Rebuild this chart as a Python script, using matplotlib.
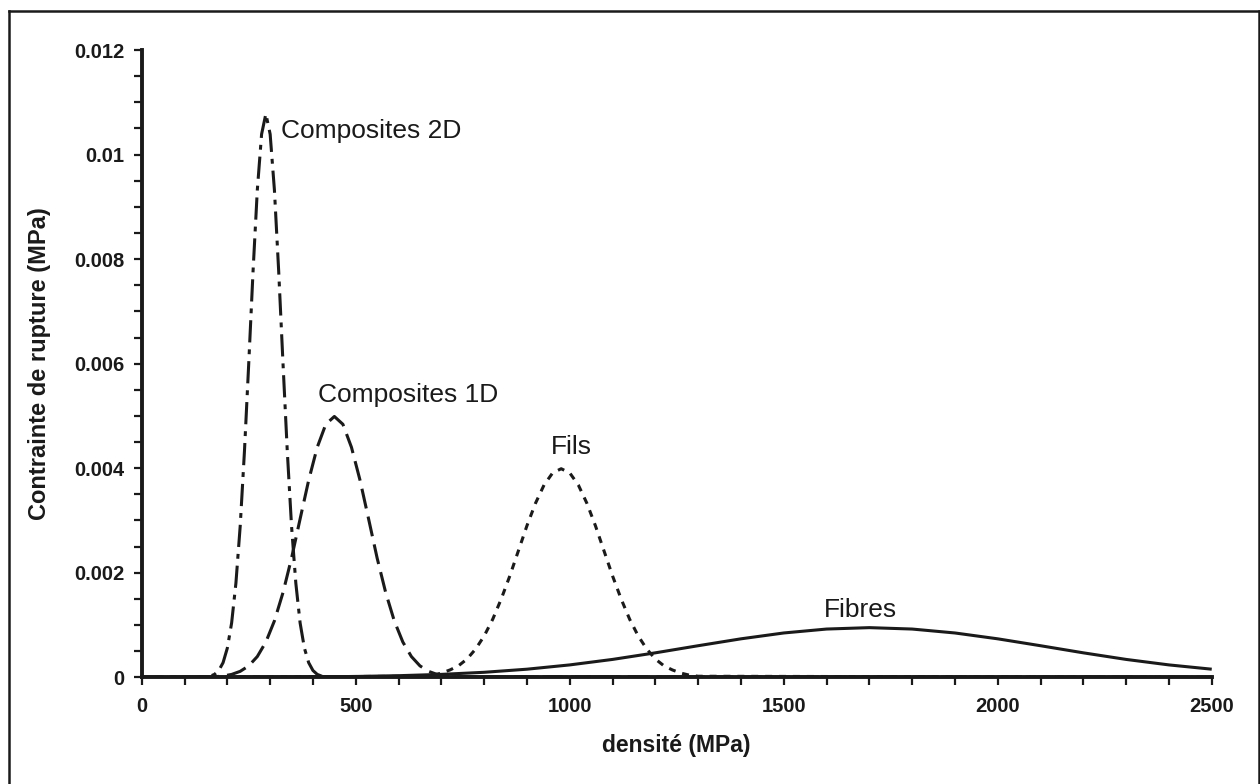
import matplotlib
matplotlib.use("Agg")
import matplotlib.pyplot as plt
from matplotlib.lines import Line2D
from matplotlib.ticker import MultipleLocator

plt.rcParams['font.family'] = ['Liberation Sans', 'DejaVu Sans']
plt.rcParams['lines.scale_dashes'] = False

# values
x_comp2d = [0, 150, 160, 170, 180, 190, 200, 210, 220, 230, 240, 250, 260, 270, 280, 290,
            300, 310, 320, 330, 340, 350, 360, 370, 380, 390, 400, 410, 420, 430, 2500]
y_comp2d = [0, 0.000008, 0.000023, 0.000056, 0.00013, 0.00028, 0.00056, 0.00104, 0.00180,
            0.00289, 0.00433, 0.00601, 0.00776, 0.00932, 0.01039, 0.01078,
            0.01039, 0.00932, 0.00776, 0.00601, 0.00433, 0.00289, 0.00180, 0.00104,
            0.00056, 0.00028, 0.00013, 0.000056, 0.000023, 0.000008, 0]

x_comp1d = [0, 170, 190, 210, 230, 250, 270, 290, 310, 330, 350, 370, 390, 410, 430, 450,
            470, 490, 510, 530, 550, 570, 590, 610, 630, 650, 670, 690, 710, 730, 2500]
y_comp1d = [0, 0.000011, 0.000025, 0.000055, 0.000114, 0.000219, 0.000397, 0.000675,
            0.00108, 0.00162, 0.00228, 0.00303, 0.00377, 0.00440, 0.00484, 0.00499,
            0.00484, 0.00440, 0.00377, 0.00303, 0.00228, 0.00162, 0.00108, 0.000675,
            0.000397, 0.000219, 0.000114, 0.000055, 0.000025, 0.000011, 0]

x_fils = [0, 660, 680, 700, 720, 740, 760, 780, 800, 820, 840, 860, 880, 900, 920, 940, 960,
          980, 1000, 1020, 1040, 1060, 1080, 1100, 1120, 1140, 1160, 1180, 1200, 1220,
          1240, 1260, 1280, 1300, 2500]
y_fils = [0, 0.00002, 0.00004, 0.00008, 0.00014, 0.00022, 0.00035, 0.00054, 0.00079,
          0.00111, 0.00150, 0.00194, 0.00242, 0.00290, 0.00333, 0.00368, 0.00391,
          0.00399, 0.00391, 0.00368, 0.00333, 0.00290, 0.00242, 0.00194, 0.00150,
          0.00111, 0.00079, 0.00054, 0.00035, 0.00022, 0.00014, 0.00008, 0.00004,
          0.00002, 0]

x_fibres = [0, 100, 200, 300, 400, 500, 600, 700, 800, 900, 1000, 1100, 1200, 1300, 1400,
            1500, 1600, 1700, 1800, 1900, 2000, 2100, 2200, 2300, 2400, 2500]
y_fibres = [0.0000003, 0.0000007, 0.0000016, 0.0000037, 0.0000079, 0.000016, 0.0000308,
            0.0000559, 0.0000957, 0.000155, 0.000237, 0.000342, 0.000468, 0.000604,
            0.000736, 0.000848, 0.000923, 0.00095, 0.000923, 0.000848, 0.000736,
            0.000604, 0.000468, 0.000342, 0.000237, 0.000155]

fig = plt.figure(figsize=(12.6, 7.84), dpi=100)
ax = fig.add_axes([0.1125, 0.1361, 0.8492, 0.8001])

lw = 2.2
ax.plot(x_fibres, y_fibres, color='#1a1a1a', lw=lw, solid_capstyle='butt')
ax.plot(x_fils, y_fils, color='#1a1a1a', lw=lw, dashes=(5, 5))
ax.plot(x_comp1d, y_comp1d, color='#1a1a1a', lw=lw, dashes=(14.5, 6))
ax.plot(x_comp2d, y_comp2d, color='#1a1a1a', lw=lw, dashes=(16, 5, 3.5, 5))

ax.set_xlim(0, 2500)
ax.set_ylim(0, 0.012)
ax.xaxis.set_major_locator(MultipleLocator(500))
ax.xaxis.set_minor_locator(MultipleLocator(100))
ax.yaxis.set_minor_locator(MultipleLocator(0.0005))
ax.set_yticks([0, 0.002, 0.004, 0.006, 0.008, 0.01, 0.012])
ax.set_yticklabels(['0', '0.002', '0.004', '0.006', '0.008', '0.01', '0.012'])

for side in ['top', 'right']:
    ax.spines[side].set_visible(False)
for side in ['left', 'bottom']:
    ax.spines[side].set_linewidth(2.8)
    ax.spines[side].set_color('#1a1a1a')

ax.tick_params(which='both', direction='out', length=5.5, width=1.6, color='#1a1a1a')
ax.tick_params(axis='x', which='major', pad=9)
ax.tick_params(axis='y', which='major', pad=7)
for lab in ax.get_xticklabels() + ax.get_yticklabels():
    lab.set_fontweight('bold')
    lab.set_fontsize(14.5)
    lab.set_color('#1a1a1a')

ax.set_xlabel('densité (MPa)', fontsize=16.5, fontweight='bold', color='#1a1a1a')
ax.set_ylabel('Contrainte de rupture (MPa)', fontsize=17, fontweight='bold', color='#1a1a1a')
ax.xaxis.set_label_coords(0.5, -0.091)
ax.yaxis.set_label_coords(-0.085, 0.5)

ax.text(325, 0.01046, 'Composites 2D', fontsize=19, ha='left', va='center', color='#1a1a1a')
ax.text(412, 0.0054, 'Composites 1D', fontsize=19, ha='left', va='center', color='#1a1a1a')
ax.text(1003, 0.00441, 'Fils', fontsize=19, ha='center', va='center', color='#1a1a1a')
ax.text(1680, 0.00128, 'Fibres', fontsize=19, ha='center', va='center', color='#1a1a1a')

# outer frame (left, top, right)
W, H = 1260, 784
fx = lambda p: p / W
fy = lambda p: 1 - p / H
frame = dict(color='#1a1a1a', lw=1.8, transform=fig.transFigure)
fig.add_artist(Line2D([fx(9), fx(9)], [0, fy(11)], **frame))
fig.add_artist(Line2D([fx(9), fx(1258.5)], [fy(11), fy(11)], **frame))
fig.add_artist(Line2D([fx(1258.5), fx(1258.5)], [fy(11), 0], **frame))

fig.savefig('out.png', dpi=100)
